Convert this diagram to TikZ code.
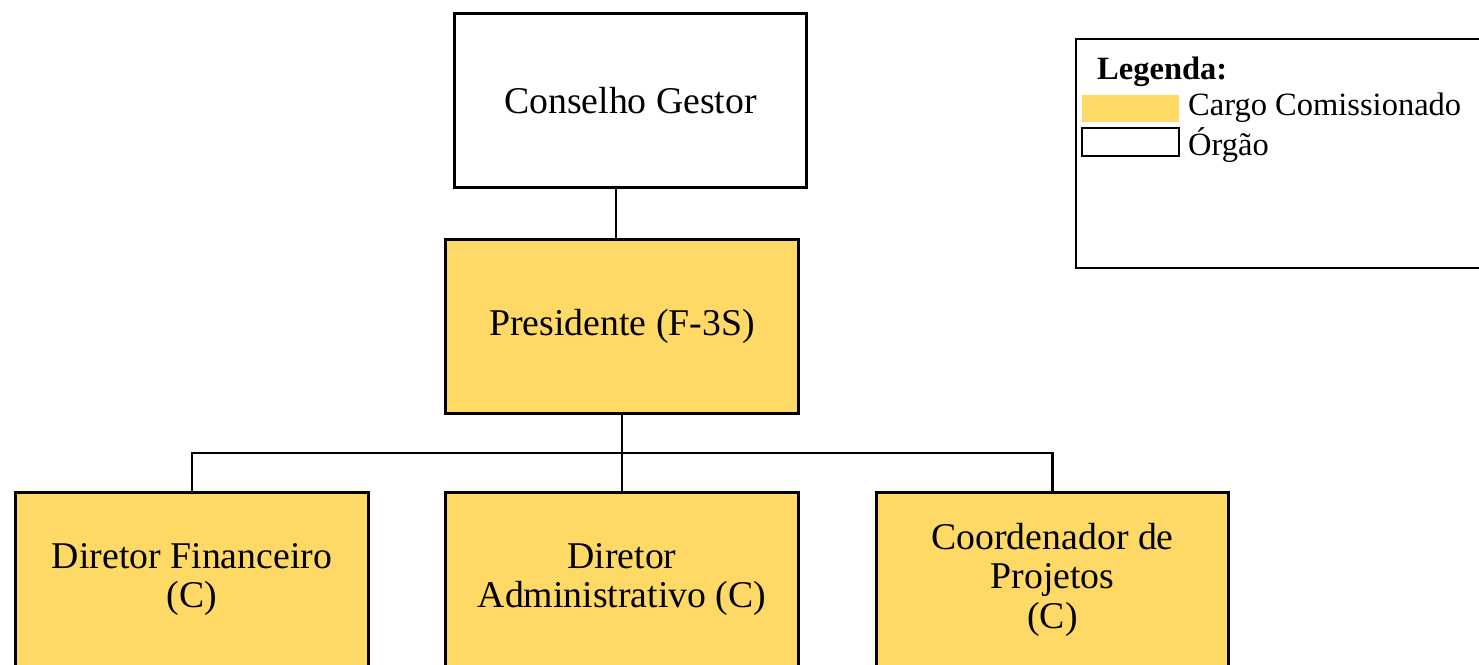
\documentclass[tikz,border=0pt]{standalone}
\usepackage{fontspec}
\setmainfont{Liberation Serif}
\usepackage{xcolor}
\definecolor{cargo}{HTML}{FFD966}

\begin{document}
\begin{tikzpicture}[x=0.02cm, y=-0.02cm,
    caixa/.style={draw, line width=1.7pt, minimum width=7.05cm, minimum height=3.5cm,
        align=center, font=\fontsize{21.5}{22.5}\selectfont},
    cargobox/.style={caixa, fill=cargo},
    conn/.style={line width=1.5pt}]
			\useasboundingbox (0,0) rectangle (1479,665);

			% Orgao no topo
			\node[caixa] (cons) at (630.5,100.5) {Conselho Gestor};

			% Presidente
			\node[cargobox] (pres) at (622,326.5) {Presidente (F-3S)};

			% Diretores
			\node[cargobox] (dfin) at (192,579.5) {Diretor Financeiro\\(C)};
			\node[cargobox] (dadm) at (622,579.5) {Diretor\\Administrativo (C)};
			\node[cargobox] (coord) at (1052.5,579.5) {Coordenador de\\Projetos\\(C)};

			% Ligacoes
			\coordinate (consb) at (616,189);
			\draw[conn] (consb) -- (consb |- pres.north);
			\coordinate (bus) at (622,453);
			\draw[conn] (pres.south) -- (bus);
			\draw[conn] (dfin.north) |- (bus);
			\draw[conn] (coord.north) |- (bus);
			\draw[conn] (dadm.north) -- (bus);

			% Legenda
			\draw[line width=0.9pt] (1076,39) rectangle (1490,268);
			\node[anchor=west, font=\fontsize{18.5}{20}\selectfont\bfseries] (leg) at (1091,72) {Legenda:};
			\fill[cargo] (1082,95) rectangle (1179,122);
			\draw[line width=1.4pt] (1082,128) rectangle (1179,156);
			\node[anchor=west, font=\fontsize{18.5}{20}\selectfont] (lcargo) at (1182,108) {Cargo Comissionado};
			\node[anchor=west, font=\fontsize{18.5}{20}\selectfont] (lorgao) at (1182,145) {Órgão};
		\end{tikzpicture}
\end{document}
